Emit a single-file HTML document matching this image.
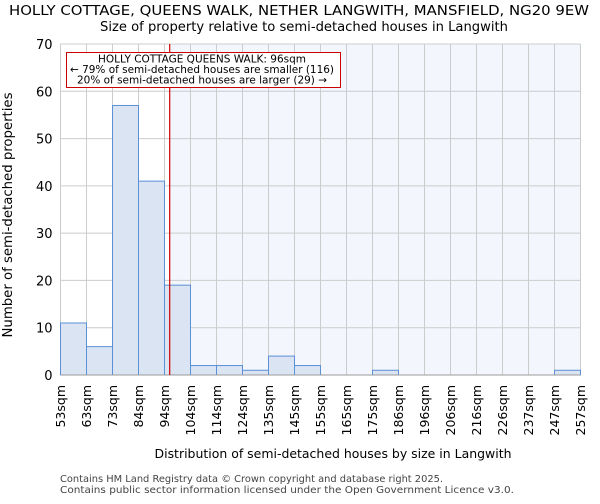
<!DOCTYPE html>
<html><head><meta charset="utf-8"><style>
body{margin:0;background:#fff;font-family:"DejaVu Sans","Liberation Sans",sans-serif;}
</style></head><body>
<svg width="600" height="500" xmlns="http://www.w3.org/2000/svg" font-family="DejaVu Sans, Liberation Sans, sans-serif">
<text x="299" y="15" text-anchor="middle" font-size="13" textLength="580" lengthAdjust="spacingAndGlyphs">HOLLY COTTAGE, QUEENS WALK, NETHER LANGWITH, MANSFIELD, NG20 9EW</text>
<text x="304" y="31" text-anchor="middle" font-size="13" textLength="408" lengthAdjust="spacingAndGlyphs">Size of property relative to semi-detached houses in Langwith</text>
<g id="plot"></g>
<text x="333" y="458" text-anchor="middle" font-size="12.5" textLength="357" lengthAdjust="spacingAndGlyphs">Distribution of semi-detached houses by size in Langwith</text>
<text transform="translate(12,215) rotate(-90)" text-anchor="middle" font-size="13" textLength="245" lengthAdjust="spacingAndGlyphs">Number of semi-detached properties</text>
<text x="60" y="482" font-size="10" fill="#444" textLength="383" lengthAdjust="spacingAndGlyphs">Contains HM Land Registry data © Crown copyright and database right 2025.</text>
<text x="60" y="493" font-size="10" fill="#444" textLength="454" lengthAdjust="spacingAndGlyphs">Contains public sector information licensed under the Open Government Licence v3.0.</text>
</svg>
<script>
const binLabels=["53sqm","63sqm","73sqm","84sqm","94sqm","104sqm","114sqm","124sqm","135sqm","145sqm","155sqm","165sqm","175sqm","186sqm","196sqm","206sqm","216sqm","226sqm","237sqm","247sqm","257sqm"];
const counts=[11,6,57,41,19,2,2,1,4,2,0,0,1,0,0,0,0,0,0,1];
const yTicks=[0,10,20,30,40,50,60,70];
const propertyBinPos=4.2;
const ns="http://www.w3.org/2000/svg";
const L=60.5,R=580.5,T=44,B=375,yMax=70;
const bw=(R-L)/counts.length;
const x=i=>L+i*bw;
const y=v=>B-(v/yMax)*(B-T);
const g=document.getElementById('plot');
function mk(t,a){const e=document.createElementNS(ns,t);for(const k in a)e.setAttribute(k,a[k]);g.appendChild(e);return e;}
const px=x(propertyBinPos);
let e=mk('rect',{x:px,y:T,width:R-px,height:B-T,fill:'#f3f6fd'});


yTicks.forEach(v=>{
 let l=mk('line',{x1:L,x2:R,y1:y(v),y2:y(v),stroke:'#cccccc'});
 
 
 let t=mk('text',{x:L-8,y:y(v)+5,'text-anchor':'end','font-size':13});
 t.textContent=v;
 
 
});
binLabels.forEach((s,i)=>{
 let l=mk('line',{x1:x(i),x2:x(i),y1:T,y2:B,stroke:'#cccccc'});
 
 
 let t=mk('text',{transform:`translate(${x(i)+4.5},385) rotate(-90)`,'text-anchor':'end','font-size':12.5});
 t.textContent=s;
 
 
});
counts.forEach((c,i)=>{
 if(c<=0)return;
 let r=mk('rect',{x:x(i),y:y(c),width:bw,height:B-y(c),fill:'#dae4f3',stroke:'#5b8fd6','stroke-width':1});
 
 
});
let ax=mk('line',{x1:L,x2:R,y1:B,y2:B,stroke:'#999'});


let ml=mk('line',{x1:px,x2:px,y1:T,y2:B,stroke:'#d00000','stroke-width':1.2});


let box=mk('rect',{x:66.5,y:52.5,width:274,height:35,fill:'#fff',stroke:'#cc0000'});


const annLines=["HOLLY COTTAGE QUEENS WALK: 96sqm","← 79% of semi-detached houses are smaller (116)","20% of semi-detached houses are larger (29) →"];
const annWidths=[208,264,250];
annLines.forEach((s,i)=>{
 let t=mk('text',{x:202,y:62.5+i*10.5,'text-anchor':'middle','font-size':10.5,textLength:annWidths[i],lengthAdjust:'spacingAndGlyphs'});
 t.textContent=s;
 
 
});
</script>
</body></html>
